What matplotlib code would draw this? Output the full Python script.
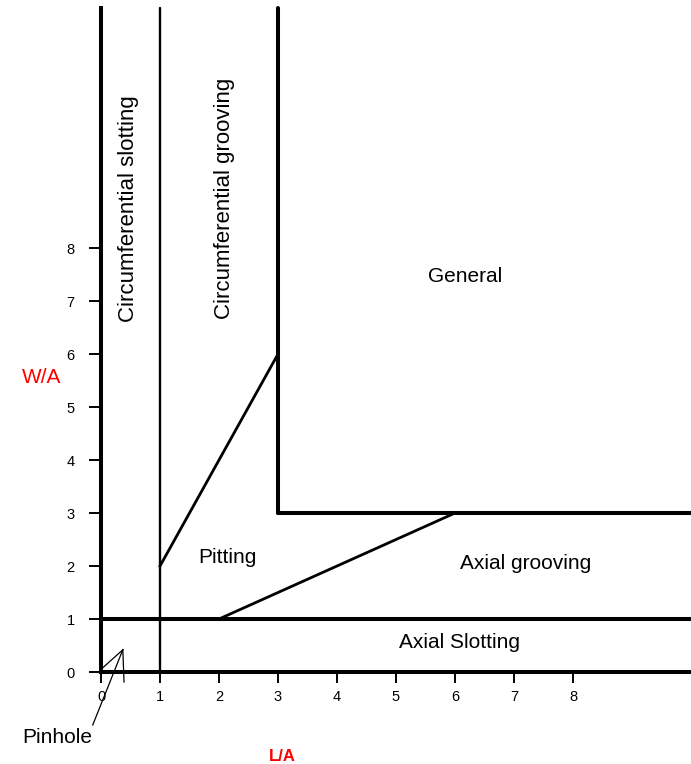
import matplotlib
matplotlib.use("Agg")
import matplotlib.pyplot as plt

plt.rcParams['font.family'] = ['Liberation Sans', 'DejaVu Sans']

# boundary lines of the defect-type map (L/A, W/A)
thick_x = [[3, 3], [3, 10], [0, 10]]
thick_y = [[3, 12.53], [3, 3], [1, 1]]
thin_x = [1, 1]
thin_y = [0, 12.53]
diag_x = [[1, 3], [2, 6]]
diag_y = [[2, 6], [1, 3]]

# pinhole marker lines
pin_x = [[0, 0.37], [0.37, 0.39], [0.37, -0.14]]
pin_y = [[0.05, 0.42], [0.42, -0.19], [0.42, -1.0]]

ticks = [0, 1, 2, 3, 4, 5, 6, 7, 8]

horiz_labels = ["General", "Pitting", "Axial grooving", "Axial Slotting"]
horiz_pos = [(6.17, 7.47), (2.14, 2.17), (7.19, 2.04), (6.08, 0.55)]
vert_labels = ["Circumferential slotting", "Circumferential grooving"]
vert_pos = [(0.46, 8.75), (2.1, 8.94)]

fig = plt.figure(figsize=(6.91, 7.64), dpi=100)
ax = fig.add_axes([101 / 691, 92 / 764, 590 / 691, 664 / 764])
ax.set_xlim(0, 10)
ax.set_ylim(0, 12.53)

for xs, ys in zip(thick_x, thick_y):
    ax.plot(xs, ys, color='black', lw=2.9, solid_capstyle='round', clip_on=False)
ax.plot(thin_x, thin_y, color='black', lw=1.7, solid_capstyle='round', clip_on=False)
for xs, ys in zip(diag_x, diag_y):
    ax.plot(xs, ys, color='black', lw=2.0, clip_on=False)
for xs, ys in zip(pin_x, pin_y):
    ax.plot(xs, ys, color='black', lw=0.9, clip_on=False)

for s, (x, y) in zip(horiz_labels, horiz_pos):
    ax.text(x, y, s, fontsize=15, ha='center', va='center')
for s, (x, y) in zip(vert_labels, vert_pos):
    ax.text(x, y, s, fontsize=16, ha='center', va='center', rotation=90)

ax.text(-0.75, -1.23, "Pinhole", fontsize=15, ha='center', va='center', clip_on=False)
ax.text(-1.0, 5.55, "W/A", fontsize=15, color='red', ha='center', va='center')
ax.text(3.08, -1.6, "L/A", fontsize=12, color='red', fontweight='bold', ha='center', va='center')

for side in ['top', 'right']:
    ax.spines[side].set_visible(False)
for side in ['left', 'bottom']:
    ax.spines[side].set_linewidth(2.9)
ax.set_xticks(ticks)
ax.set_yticks(ticks)
ax.tick_params(axis='y', length=9, width=1.4, labelsize=10.5, pad=10)
ax.tick_params(axis='x', length=8, width=1.4, labelsize=10.5, pad=5)

plt.savefig("out.png", dpi=100)
